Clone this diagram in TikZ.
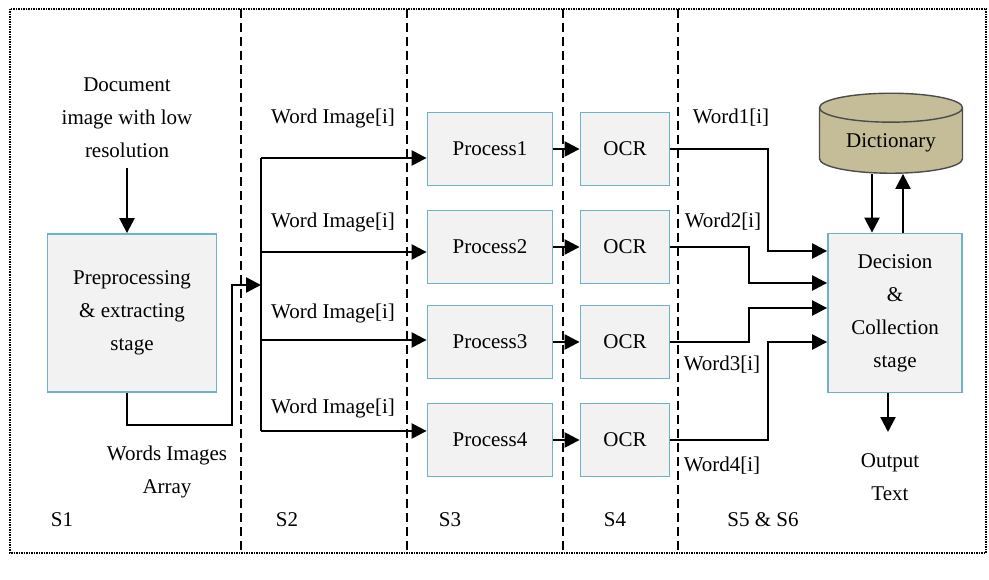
\documentclass[tikz,border=0pt]{standalone}
\usepackage{fontspec}
\setmainfont{Liberation Serif}
\usetikzlibrary{arrows.meta, shapes.geometric}
\definecolor{boxfill}{RGB}{242,242,242}
\definecolor{boxline}{RGB}{110,178,198}
\definecolor{dictfill}{RGB}{196,189,151}
\tikzset{
  stagebox/.style={rectangle, draw=boxline, fill=boxfill, line width=1.8pt, align=center},
  arr/.style={line width=2.4pt, -{Triangle[length=15pt,width=15pt]}},
  wire/.style={line width=2.4pt},
  lbl/.style={align=center, inner sep=0pt},
  sep/.style={line width=1.4pt, dash pattern=on 9pt off 5pt}
}
\begin{document}
\begin{tikzpicture}[x=1pt, y=-1pt, font=\fontsize{21}{33}\selectfont]
\useasboundingbox (0,0) rectangle (989,580);
\draw[line width=1.5pt, densely dotted] (10,9) rectangle (986,553);
\foreach \sx in {241,407,563,678}
  \draw[sep] (\sx,9) -- (\sx,553);

% stage 1
\node[lbl] (doc) at (127,118) {Document\\image with low\\resolution};
\node[stagebox, minimum width=169pt, minimum height=158pt] (pre) at (132,313) {Preprocessing\\\& extracting\\stage};
\node[lbl] (wia) at (167,472) {Words Images\\Array};
\draw[arr] (127,168) -- (127,0 |- pre.north);
\coordinate (bus) at (261,285);
\draw[arr] (127,0 |- pre.south) -- (127,425) -| (232,285) -- (bus);

% stage 2 and 3
\draw[wire] (261,158) -- (261,431);
\node[stagebox, minimum width=125pt, minimum height=73pt] (p1) at (490,149) {Process1};
\node[stagebox, minimum width=125pt, minimum height=73pt] (p2) at (490,247) {Process2};
\node[stagebox, minimum width=125pt, minimum height=73pt] (p3) at (490,342) {Process3};
\node[stagebox, minimum width=125pt, minimum height=73pt] (p4) at (490,440) {Process4};
\draw[arr] (261,158) -- (p1.west |- 0,158);
\draw[arr] (261,252) -- (p2.west |- 0,252);
\draw[arr] (261,340) -- (p3.west |- 0,340);
\draw[arr] (261,431) -- (p4.west |- 0,431);
\node[lbl] (w1) at (333,118) {Word Image[i]};
\node[lbl] (w2) at (333,222) {Word Image[i]};
\node[lbl] (w3) at (333,313) {Word Image[i]};
\node[lbl] (w4) at (333,408) {Word Image[i]};

% stage 4
\node[stagebox, minimum width=89pt, minimum height=73pt] (o1) at (625,149) {OCR};
\node[stagebox, minimum width=89pt, minimum height=73pt] (o2) at (625,247) {OCR};
\node[stagebox, minimum width=89pt, minimum height=73pt] (o3) at (625,342) {OCR};
\node[stagebox, minimum width=89pt, minimum height=73pt] (o4) at (625,440) {OCR};
\draw[arr] (p1) -- (o1);
\draw[arr] (p2) -- (o2);
\draw[arr] (p3) -- (o3);
\draw[arr] (p4) -- (o4);

% stage 5 and 6
\node[stagebox, minimum width=134pt, minimum height=159pt] (dec) at (895,313) {Decision\\\&\\Collection\\stage};
\node[cylinder, shape border rotate=90, aspect=0.3, draw=black!70, fill=dictfill, line width=1.4pt,
  minimum width=143pt, minimum height=80pt] (dict) at (891,143) {Dictionary};
\draw[arr] (o1.east) -| (768,251) -- (dec.west |- 0,251);
\draw[arr] (o2.east) -| (749,283) -- (dec.west |- 0,283);
\draw[arr] (o3.east) -| (749,308) -- (dec.west |- 0,308);
\draw[arr] (o4.east) -| (768,342) -- (dec.west |- 0,342);
\node[lbl] (wd1) at (731,118) {Word1[i]};
\node[lbl] (wd2) at (723,222) {Word2[i]};
\node[lbl] (wd3) at (722,365) {Word3[i]};
\node[lbl] (wd4) at (722,466) {Word4[i]};
\draw[arr] (872,0 |- dict.south) -- (872,0 |- dec.north);
\draw[arr] (903,0 |- dec.north) -- (903,0 |- dict.south);
\node[lbl] (out) at (890,477) {Output\\Text};
\draw[arr] (888,0 |- dec.south) -- (888,432);

% stage labels
\node[lbl] (s1) at (62,520) {S1};
\node[lbl] (s2) at (287,520) {S2};
\node[lbl] (s3) at (450,520) {S3};
\node[lbl] (s4) at (615,520) {S4};
\node[lbl] (s56) at (763,520) {S5 \& S6};
\end{tikzpicture}
\end{document}
